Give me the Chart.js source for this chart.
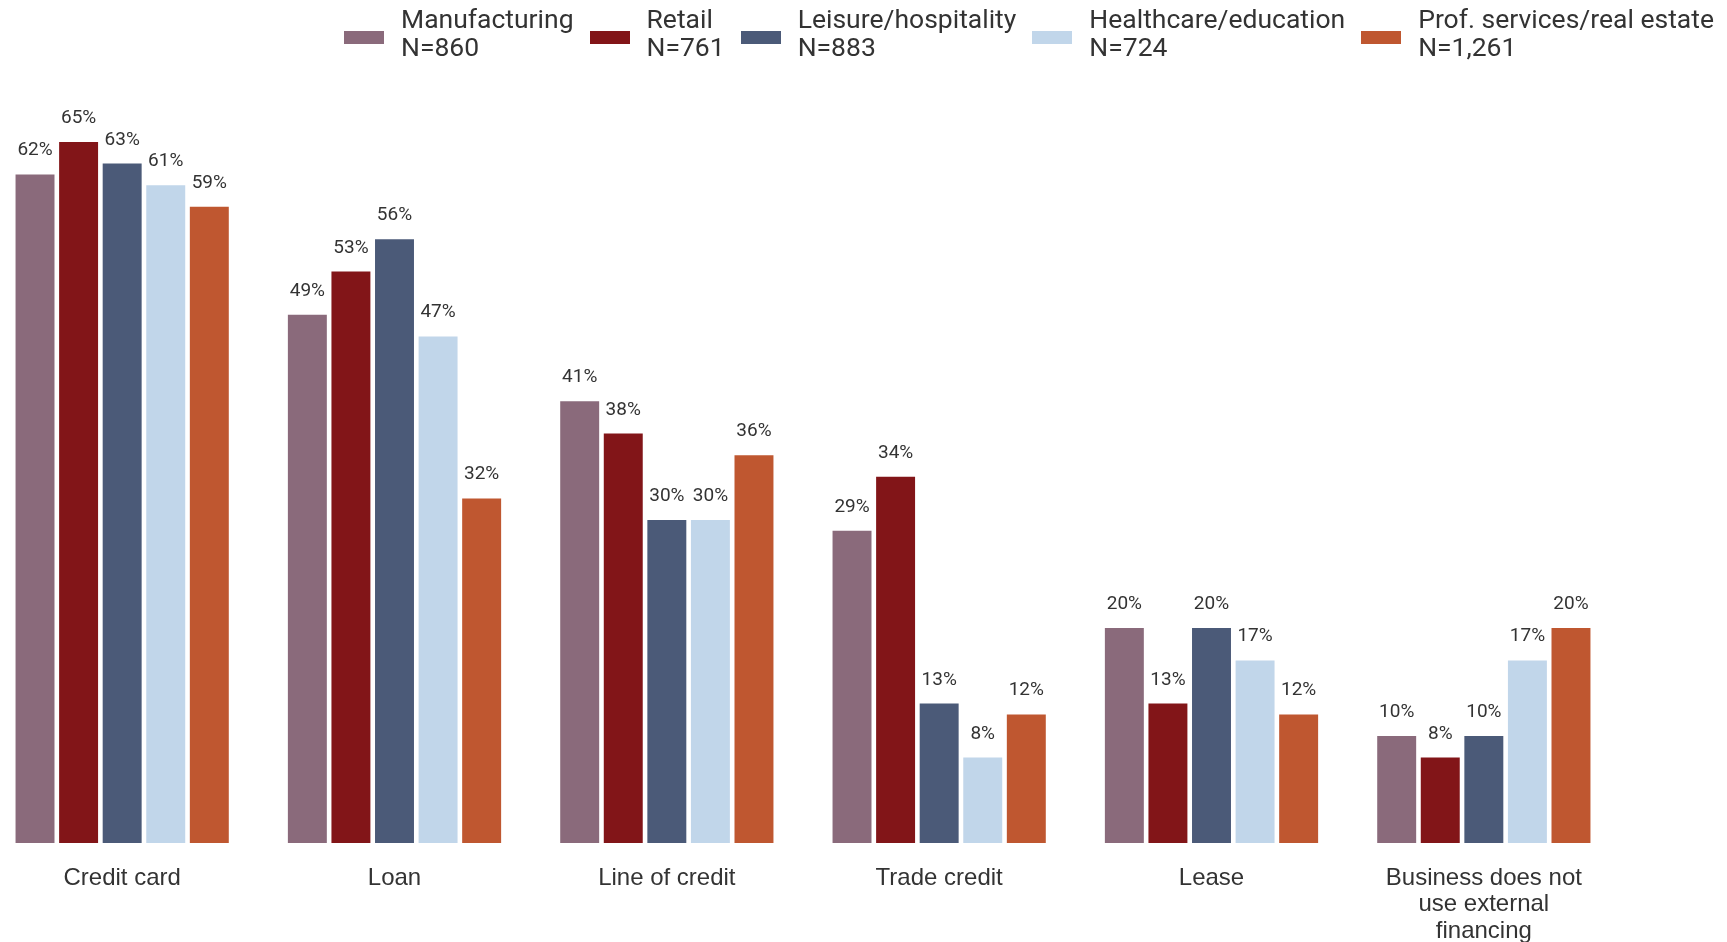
<!DOCTYPE html>
<html>
<head>
<meta charset="utf-8">
<script src="https://cdn.jsdelivr.net/npm/chart.js@4.4.1/dist/chart.umd.min.js"></script>
<style>
  html, body { margin: 0; padding: 0; background: #fff; overflow: hidden; }
  #wrap { position: absolute; left: -14px; top: 0; width: 1741px; height: 942px; }
  #legend { position: absolute; left: 344px; top: 5px; display: flex; white-space: nowrap; font-family: Roboto, sans-serif; font-size: 26.5px; line-height: 28px; color: #333; }
  .item { display: flex; align-items: flex-start; margin-right: 16px; flex: none; }
  .sw { width: 40px; height: 13px; margin-right: 17px; margin-top: 26px; flex: none; }
</style>
</head>
<body>
<div id="wrap"><canvas id="barChart" width="1741" height="942"></canvas></div>
<div id="legend"></div>
<script>
// categories and values (percent of firms)
var categories = ["Credit card", "Loan", "Line of credit", "Trade credit", "Lease", ["Business does not", "use external", "financing"]];
var seriesNames = ["Manufacturing", "Retail", "Leisure/hospitality", "Healthcare/education", "Prof. services/real estate"];
var seriesN = ["N=860", "N=761", "N=883", "N=724", "N=1,261"];
var manufacturing = [62, 49, 41, 29, 20, 10];
var retail = [65, 53, 38, 34, 13, 8];
var leisure = [63, 56, 30, 13, 20, 10];
var healthcare = [61, 47, 30, 8, 17, 17];
var profServices = [59, 32, 36, 12, 12, 20];
var colors = ["#8a6a7b", "#821518", "#4b5a78", "#c1d6ea", "#bf5730"];

var allValues = [manufacturing, retail, leisure, healthcare, profServices];

// value labels above the bars
var barLabels = {
  id: "barLabels",
  afterDatasetsDraw: function (chart) {
    var c = chart.ctx;
    c.save();
    c.font = "19px Roboto";
    c.fillStyle = "#333";
    c.textAlign = "center";
    c.textBaseline = "alphabetic";
    chart.data.datasets.forEach(function (ds, i) {
      chart.getDatasetMeta(i).data.forEach(function (bar, j) {
        c.fillText(ds.data[j] + "%", bar.x, bar.y - 18);
      });
    });
    c.restore();
  }
};

var ctx = document.getElementById("barChart").getContext("2d");
var myChart = new Chart(ctx, {
  type: "bar",
  data: {
    labels: categories,
    datasets: seriesNames.map(function (name, i) {
      return {
        label: name,
        data: allValues[i],
        backgroundColor: colors[i],
        borderColor: "rgba(255,255,255,0.45)",
        borderWidth: 1,
        barPercentage: 0.94,
        categoryPercentage: 0.8
      };
    })
  },
  options: {
    responsive: false,
    animation: false,
    layout: { padding: { left: 0, right: 107, top: 87, bottom: 0 } },
    plugins: { legend: { display: false }, tooltip: { enabled: false } },
    scales: {
      x: {
        grid: { display: false, drawTicks: false },
        border: { display: false },
        ticks: {
          color: "#333",
          padding: 22,
          font: { family: "'Liberation Sans', Arial, sans-serif", size: 24, lineHeight: 1.1 }
        },
        afterFit: function (scale) { scale.height = 99; }
      },
      y: {
        display: false,
        min: 0,
        max: 70
      }
    }
  },
  plugins: [barLabels]
});

// legend with two-line labels
var legend = document.getElementById("legend");
seriesNames.forEach(function (name, i) {
  var item = document.createElement("div");
  item.className = "item";
  item.innerHTML = '<div class="sw" style="background:' + colors[i] + '"></div><div>' + name + "<br>" + seriesN[i] + "</div>";
  legend.appendChild(item);
});
</script>
</body>
</html>
